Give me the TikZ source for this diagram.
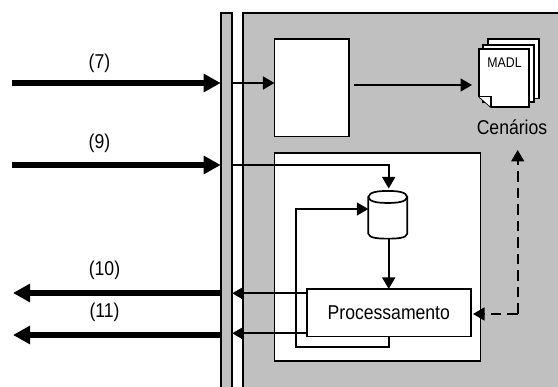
\documentclass[tikz,border=0pt]{standalone}
\usepackage{fontspec}
\setmainfont{Liberation Sans}[FakeStretch=0.88]
\usetikzlibrary{arrows.meta,calc}
\definecolor{panelgray}{RGB}{192,192,192}
\tikzset{
 ln/.style={line width=1.7pt,draw=black},
 panelbox/.style={ln,fill=panelgray,inner sep=0pt,outer sep=0pt},
 whitebox/.style={ln,fill=white,inner sep=0pt,outer sep=0pt},
 thin arrow/.style={line width=1.7pt,-{Triangle[length=11.5pt,width=13pt]}},
 thick arrow/.style={line width=5.5pt,-{Triangle[length=17pt,width=17.5pt]}},
 dash arrow/.style={thin arrow,dash pattern=on 10.5pt off 6pt},
 lab/.style={font=\fontsize{20pt}{22pt}\selectfont,inner sep=0pt},
 sheet/.style={ln,fill=white},
}
\begin{document}
\begin{tikzpicture}[x=1pt,y=-1pt]
\useasboundingbox (0,0) rectangle (558,387);
% panels
\node[panelbox,minimum width=11.6pt,minimum height=385pt] (bar) at (226.5,205.5) {};
\node[panelbox,minimum width=330pt,minimum height=385pt,anchor=north west] (panel) at (243,13) {};
\node[whitebox,minimum width=74.5pt,minimum height=97.5pt] (boxa) at (311.7,87.7) {};
\node[whitebox,minimum width=206pt,minimum height=207.5pt] (boxb) at (377.5,257) {};
\node[whitebox,minimum width=164.3pt,minimum height=47.7pt,lab] (proc) at (388.8,312.8) {Processamento};
% database cylinder
\node[inner sep=0pt,outer sep=0pt,minimum width=39pt,minimum height=47.7pt] (db) at (387.8,214.8) {};
\draw[ln,fill=white] ($(db.north west)+(0,6)$) -- ($(db.south west)+(0,-5)$)
  .. controls ($(db.south west)+(1,-0.5)$) and ($(db.south)+(-10,0)$) .. (db.south)
  .. controls ($(db.south)+(10,0)$) and ($(db.south east)+(-1,-0.5)$) .. ($(db.south east)+(0,-5)$)
  -- ($(db.north east)+(0,6)$)
  .. controls ($(db.north east)+(-1,1)$) and ($(db.north)+(10,0)$) .. (db.north)
  .. controls ($(db.north)+(-10,0)$) and ($(db.north west)+(1,1)$) .. cycle;
\draw[ln] ($(db.north west)+(0,6)$) .. controls ($(db.north west)+(1,11)$) and ($(db.north)+(-10,12)$) .. ($(db.north)+(0,12)$)
  .. controls ($(db.north)+(10,12)$) and ($(db.north east)+(-1,11)$) .. ($(db.north east)+(0,6)$);
% document stack
\draw[sheet] (488,39) rectangle (539,98.5);
\draw[sheet] (483,45) rectangle (534,102);
\draw[sheet] (479,49) -- (529,49) -- (529,107) -- (491,107) -- (479,96.5) -- cycle;
\draw[ln,fill=white] (479,96.5) -- (491,96.5) -- (491,107);
\node[font=\fontsize{14pt}{16pt}\selectfont,inner sep=0pt] (madl) at (504.5,62.5) {MADL};
\node[lab] (cen) at (512,127) {Cenários};
% labels
\node[lab] (l7) at (99.5,63.5) {(7)};
\node[lab] (l9) at (99.5,143.5) {(9)};
\node[lab] (l10) at (104.5,270.5) {(10)};
\node[lab] (l11) at (104.5,312.5) {(11)};
% coordinates
\coordinate (s7) at (12,83);
\coordinate (s9) at (12,165);
\coordinate (e10) at (13,293);
\coordinate (e11) at (13,335);
\coordinate (t7) at (232.3,83);
\coordinate (t9) at (232.3,165);
\coordinate (o10) at (306.7,293.3);
\coordinate (o11) at (306.7,333.3);
\coordinate (fb2) at (296.3,347);
\coordinate (fb3) at (296.3,209);
\coordinate (cenin) at (517.7,150);
\coordinate (dashc) at (517.7,314);
\coordinate (procin) at (473,314);
\coordinate (dbin) at (388.7,188.5);
\coordinate (docin) at (472,85);
\coordinate (aout) at (354,85);
% thick arrows
\draw[thick arrow] (s7) -- (bar.west |- s7);
\draw[thick arrow] (s9) -- (bar.west |- s9);
\draw[thick arrow] (bar.west |- e10) -- (e10);
\draw[thick arrow] (bar.west |- e11) -- (e11);
% thin arrows
\draw[thin arrow] (t7) -- (boxa.west |- t7);
\draw[thin arrow] (aout) -- (docin);
\draw[thin arrow] (t9) -| (dbin);
\draw[thin arrow] (dbin |- db.south) -- (dbin |- proc.north);
\draw[thin arrow] (dbin |- proc.south) |- (fb2) -- (fb3) -- (db.west |- fb3);
\draw[thin arrow] (o10) -- (bar.east |- o10);
\draw[thin arrow] (o11) -- (bar.east |- o11);
\draw[dash arrow] (dashc) -- (cenin);
\draw[dash arrow] (dashc) -- (procin);
\end{tikzpicture}
\end{document}
